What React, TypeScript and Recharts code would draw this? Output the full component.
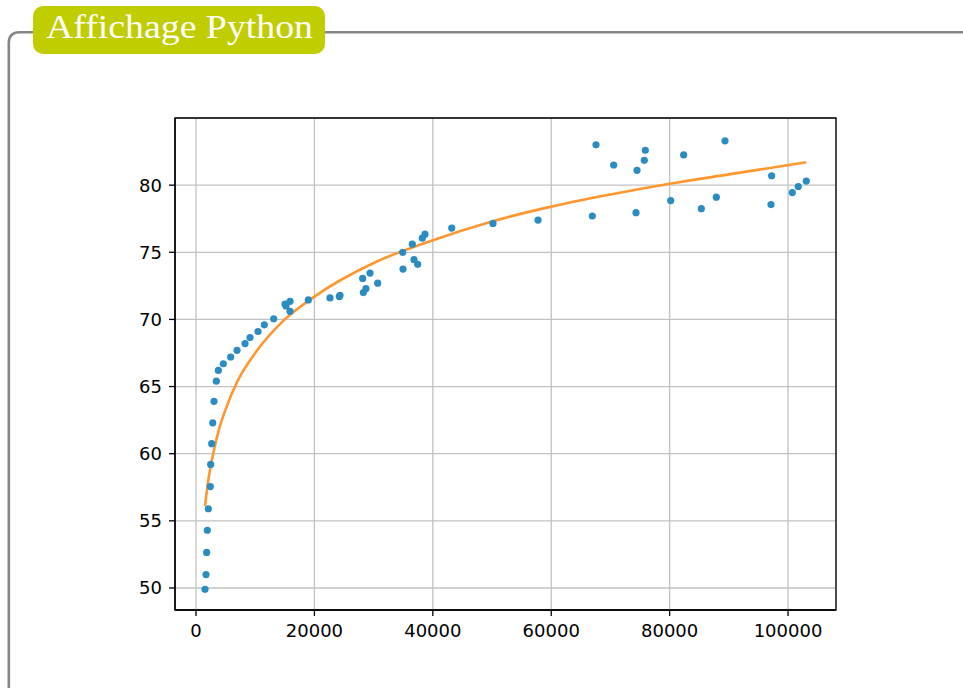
import { CartesianGrid, ComposedChart, Line, ReferenceArea, Scatter, XAxis, YAxis } from "recharts";

// observed points
const pointX = [
  1520, 1690, 1800, 1910, 2080, 2420, 2480, 2650, 2820, 3040,
  3430, 3770, 4610, 5850, 6930, 8280, 9120, 10470, 11540, 13120,
  15030, 15880, 15880, 15200, 18970, 22630, 24320, 24210, 28150, 29390,
  28710, 28260, 30690, 34960, 34910, 36540, 36820, 37440, 38220, 38680,
  43190, 50160, 57770, 66940, 67560, 70550, 74490, 74320, 75720, 75890,
  80180, 82370, 85350, 87880, 89350, 97230, 97120, 100720, 101730, 103080,
];
const pointY = [
  49.9, 51.0, 52.65, 54.3, 55.9, 57.55, 59.2, 60.75, 62.3, 63.9,
  65.4, 66.2, 66.7, 67.2, 67.7, 68.2, 68.65, 69.1, 69.6, 70.05,
  71.15, 71.35, 70.6, 71.0, 71.45, 71.6, 71.8, 71.7, 73.05, 73.45,
  72.3, 72.0, 72.7, 73.75, 75.0, 75.6, 74.45, 74.1, 76.05, 76.35,
  76.8, 77.15, 77.4, 77.7, 83.0, 81.5, 81.1, 77.95, 81.85, 82.6,
  78.85, 82.25, 78.25, 79.1, 83.3, 80.7, 78.55, 79.45, 79.9, 80.3,
];

// fitted curve
const fitX = [1520, 2000, 2500, 3000, 4000, 5000, 7000, 10000, 15000, 20000, 30000, 40000, 50000, 60000, 70000, 80000, 90000, 103080];
const fitY = [56.1, 57.8, 59.1, 60.2, 62.0, 63.3, 65.4, 67.5, 70.0, 71.7, 74.2, 75.9, 77.3, 78.4, 79.3, 80.1, 80.8, 81.7];

const xTicks = [0, 20000, 40000, 60000, 80000, 100000];
const yTicks = [50, 55, 60, 65, 70, 75, 80];

const X_DOMAIN: [number, number] = [-3550, 108100];
const Y_DOMAIN: [number, number] = [48.36, 85.0];

const points = pointX.map((x, i) => ({ x, y: pointY[i] }));
const fit = fitX.map((x, i) => ({ x, y: fitY[i] }));

const tickFont = { fontFamily: "DejaVu Sans", fontSize: 18, fill: "#000" };

function XTick({ x, y, payload }: any) {
  return (
    <text x={x} y={y} dy="0.71em" textAnchor="middle" {...tickFont}>
      {payload.value}
    </text>
  );
}

function YTick({ x, y, payload }: any) {
  return (
    <text x={x} y={y} dy="0.36em" textAnchor="end" {...tickFont}>
      {payload.value}
    </text>
  );
}

function Dot({ cx, cy }: any) {
  return <circle cx={cx} cy={cy} r={3.6} fill="#2b8cc2" />;
}

export default function App() {
  return (
    <div style={{ position: "absolute", left: 0, top: 0, width: 963, height: 688, background: "#fff", overflow: "hidden" }}>
      <svg width={963} height={688} style={{ position: "absolute", left: 0, top: 0 }}>
        <path d="M 8.8 700 L 8.8 43 Q 8.8 32.2 19.6 32.2 L 970 32.2" fill="none" stroke="#858585" strokeWidth={2.6} />
        <rect x={33} y={6} width={292} height={48} rx={10} fill="#c0cd00" />
        <text x={46} y={38} fill="#fff" fontFamily="Liberation Serif" fontSize={33} textLength={267} lengthAdjust="spacingAndGlyphs">
          Affichage Python
        </text>
      </svg>
      <div style={{ position: "absolute", left: 0, top: 0 }}>
        <ComposedChart width={963} height={688} margin={{ top: 118, right: 127, bottom: 38, left: 115 }}>
          <CartesianGrid stroke="#c2c2c2" strokeWidth={1.3} />
          <XAxis
            type="number"
            dataKey="x"
            domain={X_DOMAIN}
            allowDataOverflow
            ticks={xTicks}
            height={40}
            tickSize={6}
            tickMargin={8}
            axisLine={{ stroke: "#000", strokeWidth: 1.3 }}
            tickLine={{ stroke: "#000", strokeWidth: 1.3 }}
            tick={<XTick />}
          />
          <YAxis
            type="number"
            domain={Y_DOMAIN}
            allowDataOverflow
            ticks={yTicks}
            width={60}
            tickSize={6}
            tickMargin={7}
            axisLine={{ stroke: "#000", strokeWidth: 1.3 }}
            tickLine={{ stroke: "#000", strokeWidth: 1.3 }}
            tick={<YTick />}
          />
          <Scatter data={points} dataKey="y" shape={<Dot />} isAnimationActive={false} />
          <Line
            data={fit}
            dataKey="y"
            type="monotone"
            stroke="#ff962e"
            strokeWidth={2.6}
            dot={false}
            activeDot={false}
            isAnimationActive={false}
          />
          <ReferenceArea x1={X_DOMAIN[0]} x2={X_DOMAIN[1]} y1={Y_DOMAIN[0]} y2={Y_DOMAIN[1]} fill="none" stroke="#000" strokeWidth={1.3} />
        </ComposedChart>
      </div>
    </div>
  );
}
